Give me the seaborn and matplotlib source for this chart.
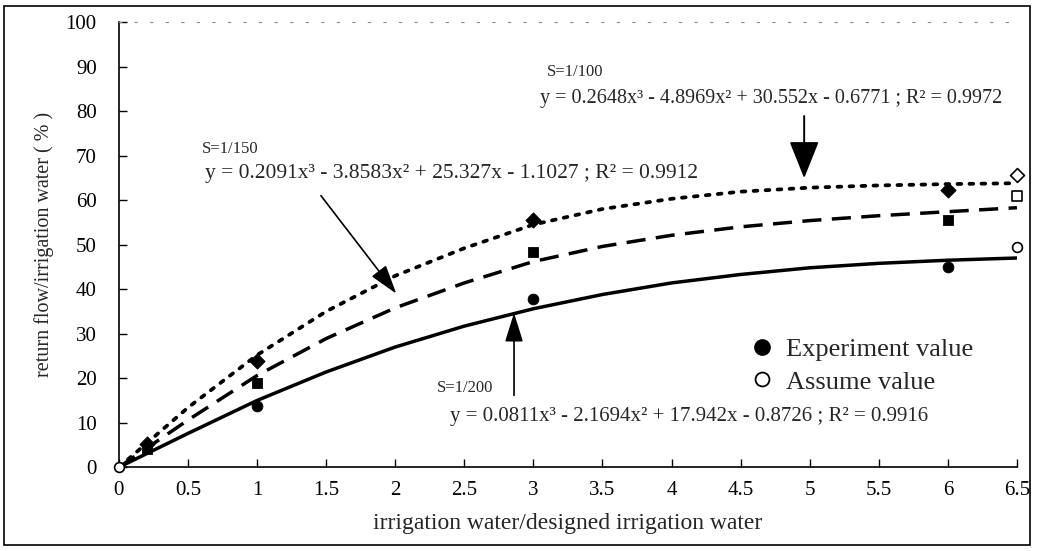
import numpy as np
import matplotlib
matplotlib.use('Agg')
import matplotlib.pyplot as plt
from matplotlib.lines import Line2D
from matplotlib.patches import Rectangle
import seaborn as sns
import pandas as pd

# fitted curves at every 0.5 step
x_curve = [0, 0.5, 1, 1.5, 2, 2.5, 3, 3.5, 4, 4.5, 5, 5.5, 6, 6.5]
s100_curve = [0, 13.4, 25.2, 35.0, 43.0, 49.2, 54.5, 58.0, 60.3, 61.9, 62.8, 63.3, 63.6, 63.8]
s150_curve = [0, 10.6, 20.6, 28.9, 35.8, 41.4, 46.2, 49.6, 52.1, 54.0, 55.4, 56.5, 57.4, 58.3]
s200_curve = [0, 7.6, 15.0, 21.4, 27.0, 31.7, 35.6, 38.8, 41.4, 43.3, 44.8, 45.8, 46.5, 47.0]

# experiment values (filled markers)
s100_x = [0.2, 1, 3, 6]
s100_y = [5.2, 23.9, 55.5, 62.3]
s150_x = [0.2, 1, 3, 6]
s150_y = [4.2, 19.0, 48.3, 55.5]
s200_x = [1, 3, 6]
s200_y = [13.8, 37.7, 44.9]

# assumed values (open markers)
assume_x = [0, 6.5, 6.5, 6.5]
assume_y = [0, 65.7, 61.0, 49.4]
assume_mk = ['o', 'D', 's', 'o']

eq100 = 'y = 0.2648x³ - 4.8969x² + 30.552x - 0.6771 ; R² = 0.9972'
eq150 = 'y = 0.2091x³ - 3.8583x² + 25.327x - 1.1027 ; R² = 0.9912'
eq200 = 'y = 0.0811x³ - 2.1694x² + 17.942x - 0.8726 ; R² = 0.9916'

sns.set_style('ticks')
plt.rcParams['font.family'] = ['Liberation Serif', 'DejaVu Serif']

fig = plt.figure(figsize=(10.43, 5.51), dpi=100)
ax = fig.add_axes([0.114, 0.152, 0.861, 0.808])

curves = pd.DataFrame({'x': x_curve, 's100': s100_curve, 's150': s150_curve, 's200': s200_curve})
sns.lineplot(data=curves, x='x', y='s100', ax=ax, color='black', lw=2.7,
             linestyle=(0, (1, 2.2)), dash_capstyle='round')
sns.lineplot(data=curves, x='x', y='s150', ax=ax, color='black', lw=2.5,
             linestyle=(0, (5.5, 3)))
sns.lineplot(data=curves, x='x', y='s200', ax=ax, color='black', lw=2.5)

sns.scatterplot(x=s100_x, y=s100_y, ax=ax, marker='D', s=60, color='black', edgecolor='black', zorder=5)
sns.scatterplot(x=s150_x, y=s150_y, ax=ax, marker='s', s=55, color='black', edgecolor='black', zorder=5)
sns.scatterplot(x=s200_x, y=s200_y, ax=ax, marker='o', s=60, color='black', edgecolor='black', zorder=5)
for xx, yy, mk in zip(assume_x, assume_y, assume_mk):
    ax.scatter([xx], [yy], marker=mk, s=50, facecolor='white', edgecolor='black',
               linewidth=1.2, zorder=6, clip_on=False)
for coll in ax.collections:
    coll.set_clip_on(False)

ax.set_xlim(0, 6.5)
ax.set_ylim(0, 100)
ax.set_xticks(np.arange(0, 6.6, 0.5))
ax.set_xticklabels(['0', '0.5', '1', '1.5', '2', '2.5', '3', '3.5', '4', '4.5', '5', '5.5', '6', '6.5'])
ax.set_yticks(range(0, 101, 10))
ax.tick_params(direction='in', length=6, width=1, labelsize=15, colors='black')
ax.tick_params(axis='x', pad=10)
ax.tick_params(axis='y', pad=16)
ax.set_xlabel('irrigation water/designed irrigation water', fontsize=17, labelpad=9)
ax.set_ylabel('return flow/irrigation water ( % )', fontsize=14.5, labelpad=8)

for sp in ['left', 'bottom']:
    ax.spines[sp].set_linewidth(1.2)
    ax.spines[sp].set_color('black')
ax.spines['right'].set_visible(False)
ax.spines['top'].set_linestyle((0, (2, 12)))
ax.spines['top'].set_color('0.55')
ax.spines['top'].set_linewidth(0.8)

big_head = '-|>,head_length=0.9,head_width=0.36'
small_head = '-|>,head_length=0.9,head_width=0.28'

# curve labels and arrows
ax.text(3.1, 88.8, 'S=1/100', fontsize=12, va='center', ha='left')
ax.text(3.05, 82.9, eq100, fontsize=14.5, va='center', ha='left')
ax.annotate('', xy=(4.96, 64.3), xytext=(4.96, 79.5),
            arrowprops=dict(arrowstyle=big_head, mutation_scale=26, lw=1.4, color='black'))

ax.text(0.6, 71.5, 'S=1/150', fontsize=12, va='center', ha='left')
ax.text(0.62, 66.0, eq150, fontsize=15.5, va='center', ha='left')
ax.annotate('', xy=(2.02, 38.5), xytext=(1.45, 61.5),
            arrowprops=dict(arrowstyle=small_head, mutation_scale=20, lw=1.2, color='black'))

ax.text(2.3, 17.8, 'S=1/200', fontsize=12, va='center', ha='left')
ax.text(2.4, 11.4, eq200, fontsize=15, va='center', ha='left')
ax.annotate('', xy=(2.86, 35.3), xytext=(2.86, 15.5),
            arrowprops=dict(arrowstyle=small_head, mutation_scale=20, lw=1.2, color='black'))

handles = [Line2D([], [], marker='o', linestyle='none', markersize=11, color='black'),
           Line2D([], [], marker='o', linestyle='none', markersize=10,
                  markerfacecolor='white', markeredgecolor='black', markeredgewidth=1.3)]
ax.legend(handles, ['Experiment value', 'Assume value'], loc='upper left',
          bbox_to_anchor=(0.672, 0.345), frameon=False, fontsize=19,
          handletextpad=0.3, labelspacing=0.35, handlelength=1.2)

fig.patches.append(Rectangle((0.004, 0.01), 0.984, 0.98, transform=fig.transFigure,
                             fill=False, edgecolor='black', linewidth=1.2))

fig.savefig('out.png', dpi=100)
